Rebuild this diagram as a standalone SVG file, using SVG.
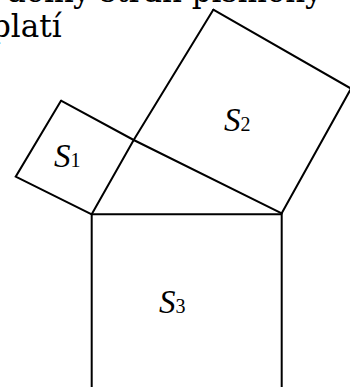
<svg xmlns="http://www.w3.org/2000/svg" width="350" height="387" viewBox="0 0 350 387">
<style>
.ln{stroke:#000;stroke-width:2;fill:none;stroke-linecap:round;stroke-linejoin:miter}
.tx{font-family:"DejaVu Serif",serif;font-size:31px;fill:#000}
.s{font-family:"Liberation Serif",serif;font-style:italic;font-size:33px;fill:#000}
.sub{font-family:"Liberation Serif",serif;font-size:20px;fill:#000}
</style>
<rect width="350" height="387" fill="#fff"/>
<g id="text">
<text class="tx" x="6" y="2">délky stran písmeny</text>
<text class="tx" x="-9" y="37">platí</text>
</g>
<g id="connectors">
<polyline class="ln" points="91.7,214.3 133.7,140 213.3,9.7"/>
<polyline class="ln" points="281.7,213.3 133.7,140 61,100.7"/>
</g>
<g id="S1">
<polyline class="ln" points="61,100.7 15.7,176.7 91.7,214.3"/>
<text x="54" y="167"><tspan class="s">S</tspan><tspan class="sub">1</tspan></text>
</g>
<g id="S2">
<polyline class="ln" points="213.3,9.7 351,88.6 281.7,213.3"/>
<text x="224" y="131"><tspan class="s">S</tspan><tspan class="sub">2</tspan></text>
</g>
<g id="S3">
<polyline class="ln" points="91.7,390 91.7,214.3 281.7,214.3 281.7,390"/>
<text x="159" y="313"><tspan class="s">S</tspan><tspan class="sub">3</tspan></text>
</g>
</svg>
